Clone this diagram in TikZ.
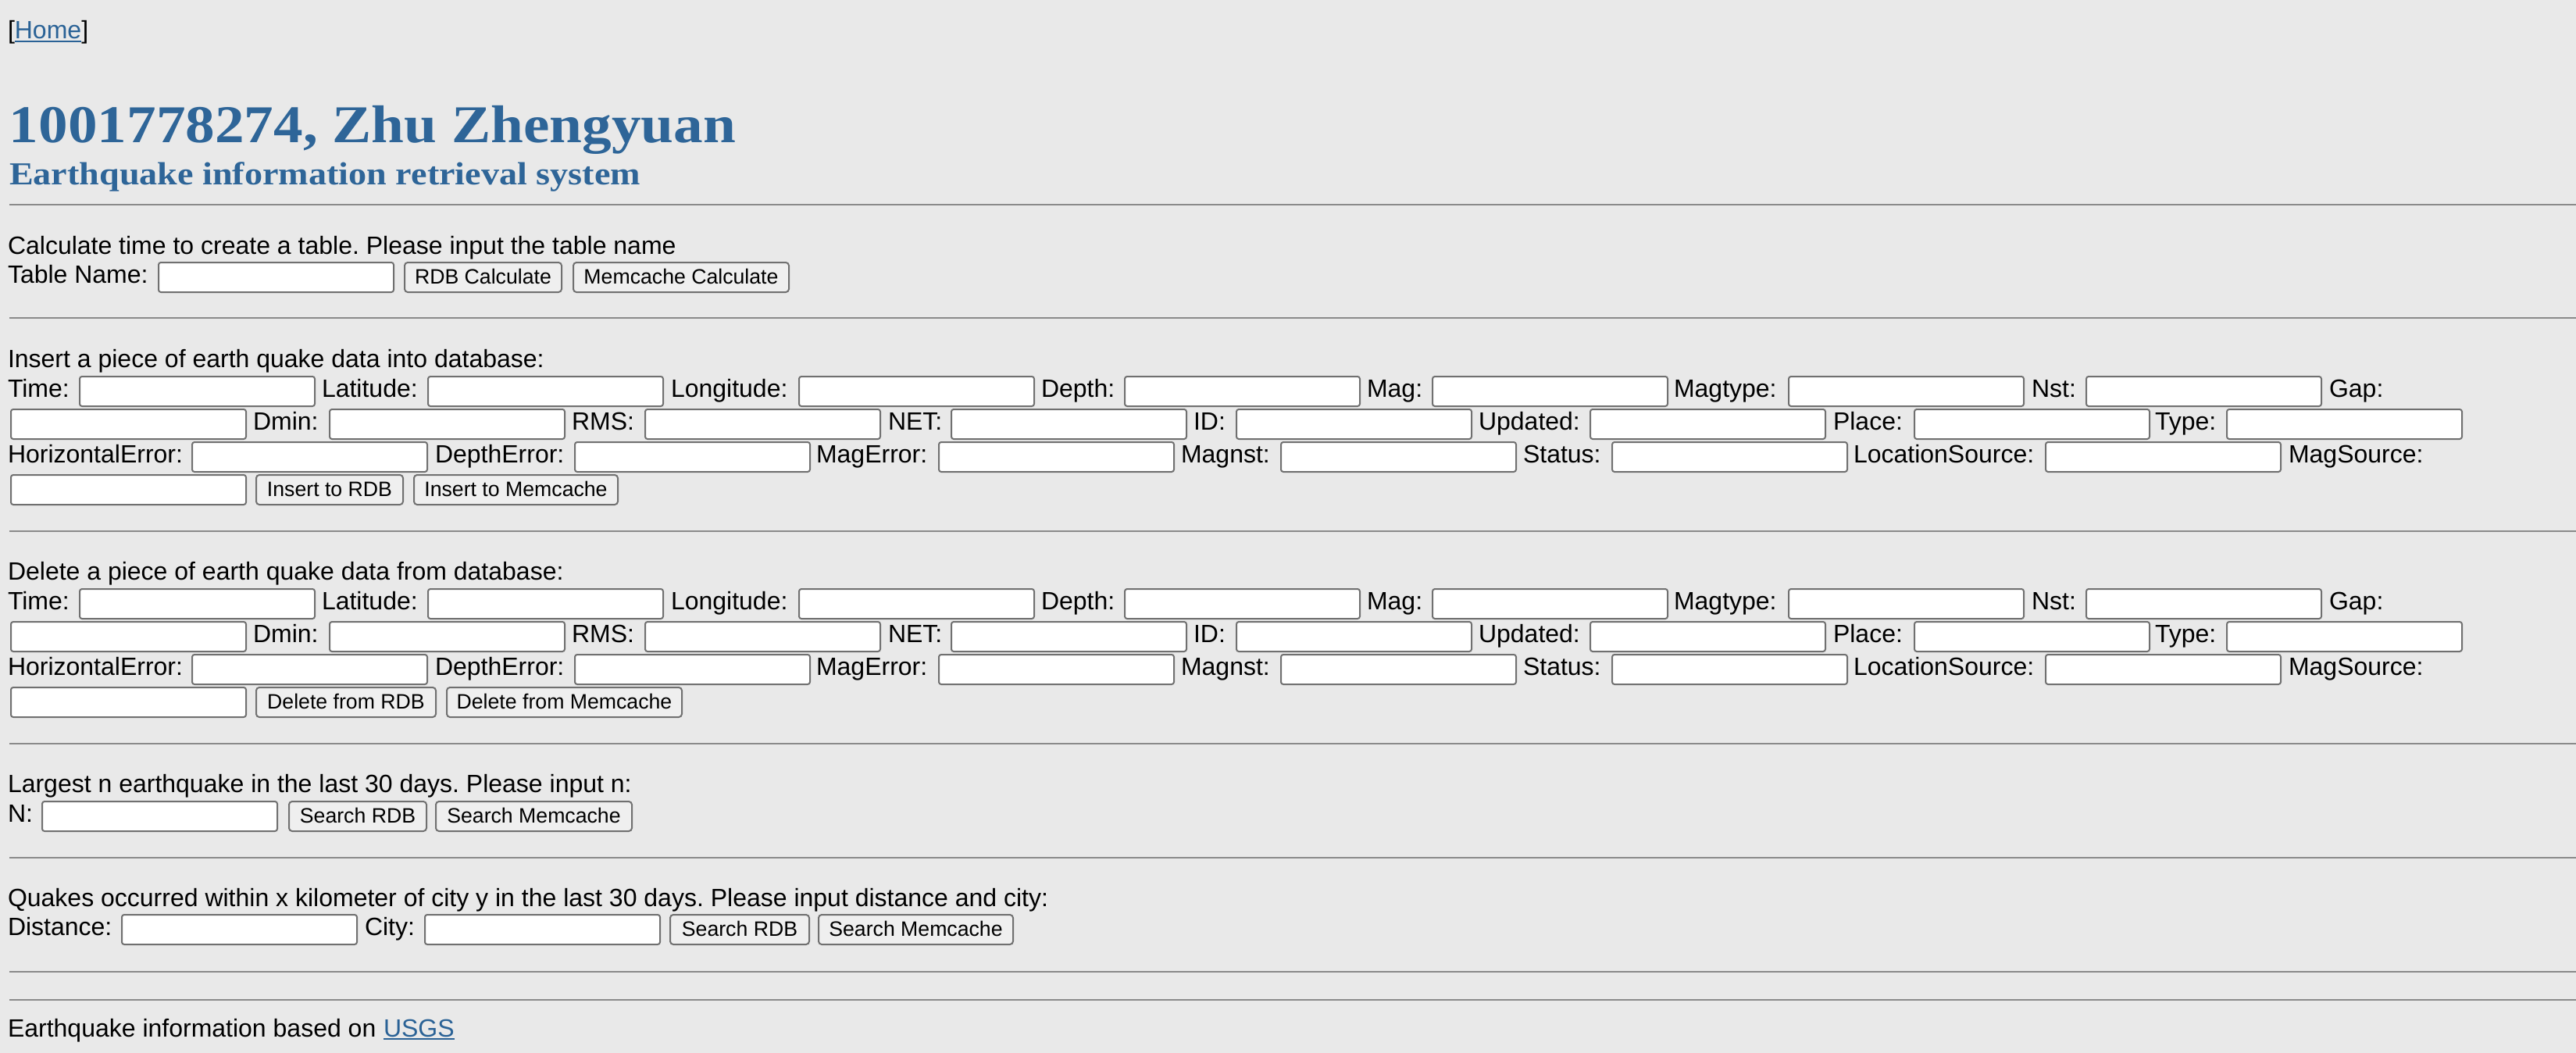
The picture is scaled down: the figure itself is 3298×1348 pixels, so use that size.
\documentclass[tikz,border=0pt]{standalone}
\usepackage{fontspec}
\usepackage{graphicx}
\setmainfont{Liberation Sans}
\newfontfamily\serifbf{Liberation Serif}
\definecolor{bgc}{RGB}{233,233,233}
\definecolor{hrc}{RGB}{138,138,138}
\definecolor{brd}{RGB}{112,112,112}
\definecolor{btnfill}{RGB}{239,239,239}
\definecolor{titleblue}{RGB}{46,101,152}
\definecolor{linkblue}{RGB}{42,98,150}
\tikzset{
  txt/.style={anchor=base west, inner sep=0pt, outer sep=0pt, font=\fontsize{32}{38}\selectfont},
  field/.style={draw=brd, fill=white, line width=2pt, rounded corners=3pt, anchor=north west,
    xshift=1pt, yshift=-1pt, minimum width=301pt, minimum height=38pt, inner sep=0pt},
  btn/.style={draw=brd, fill=btnfill, line width=2pt, rounded corners=4pt, anchor=north west,
    xshift=1pt, yshift=-1pt, minimum width=#1, minimum height=38pt, inner sep=0pt,
    text height=20pt, text depth=4pt, font=\fontsize{26.67}{32}\selectfont},
  rule/.style={draw=hrc, line width=2.5pt},
  uline/.style={draw=linkblue, line width=2pt}
}
\frenchspacing
\begin{document}
\begin{tikzpicture}[x=1pt,y=-1pt]
\useasboundingbox (0,0) rectangle (3298,1348);
\fill[bgc] (0,0) rectangle (3298,1348);

% Home link
\node[txt] (hl) at (10,50) {[};
\node[txt, text=linkblue] (home) at (hl.base east) {Home};
\node[txt] (hr) at (home.base east) {]};
\draw[uline] ([yshift=-3pt]home.base west) -- ([yshift=-3pt]home.base east);

% Titles
\node[txt, text=titleblue, font=\serifbf\bfseries\fontsize{68}{80}\selectfont] (title) at (12,183)
  {\resizebox{930pt}{\height}{1001778274, Zhu Zhengyuan}};
\node[txt, text=titleblue, font=\serifbf\bfseries\fontsize{41}{48}\selectfont] (subtitle) at (12,237)
  {\resizebox{808pt}{\height}{Earthquake information retrieval system}};

% Rules
\foreach \ry in {262,407,680,952,1098,1244,1280}
  \draw[rule] (12,\ry) -- (3298,\ry);

% Section 1
\node[txt] (calc) at (10,325) {Calculate time to create a table. Please input the table name};
\node[txt] (tnl) at (10,362) {Table Name:};
\node[field] (tnf) at (201,334) {};
\node[btn=201pt] (rdbcalc) at (516,334) {RDB Calculate};
\node[btn=276pt] (memcalc) at (732,334) {Memcache Calculate};

% Sections 2 and 3
\node[txt] (inshead) at (10,470) {Insert a piece of earth quake data into database:};
\node[txt] (delhead) at (10,742) {Delete a piece of earth quake data from database:};
\foreach \s/\dy in {ins/0,del/272}{
  \foreach \lx/\bx/\lab [count=\i] in {10/100/Time, 412/546/Latitude, 859/1021/Longitude,
      1333/1438/Depth, 1750/1832/Mag, 2143/2288/Magtype, 2601/2669/Nst}{
    \node[txt] (\s ra\i l) at ({\lx},{508+\dy}) {\lab:};
    \node[field] (\s ra\i f) at ({\bx},{480+\dy}) {};
  }
  \node[txt] (\s gapl) at (2982,{508+\dy}) {Gap:};
  \node[field] (\s gapf) at (12,{522+\dy}) {};
  \foreach \lx/\bx/\lab [count=\i] in {324/420/Dmin, 732/824/RMS, 1137/1216/NET, 1528/1581/ID,
      1893/2034/Updated, 2347/2449/Place, 2759/2849/Type}{
    \node[txt] (\s rb\i l) at ({\lx},{550+\dy}) {\lab:};
    \node[field] (\s rb\i f) at ({\bx},{522+\dy}) {};
  }
  \foreach \lx/\bx/\lab [count=\i] in {10/244/HorizontalError, 557/734/DepthError, 1045/1200/MagError,
      1512/1638/Magnst, 1950/2062/Status, 2373/2617/LocationSource}{
    \node[txt] (\s rc\i l) at ({\lx},{592+\dy}) {\lab:};
    \node[field] (\s rc\i f) at ({\bx},{564+\dy}) {};
  }
  \node[txt] (\s magsl) at (2930,{592+\dy}) {MagSource:};
  \node[field] (\s magsf) at (12,{606+\dy}) {};
}
\node[btn=188pt] (insrdb) at (326,606) {Insert to RDB};
\node[btn=261pt] (insmem) at (528,606) {Insert to Memcache};
\node[btn=230pt] (delrdb) at (326,878) {Delete from RDB};
\node[btn=301pt] (delmem) at (570,878) {Delete from Memcache};

% Section 4
\node[txt] (largest) at (10,1014) {Largest n earthquake in the last 30 days. Please input n:};
\node[txt] (nl) at (10,1052) {N:};
\node[field] (nf) at (52,1024) {};
\node[btn=176pt] (s4rdb) at (368,1024) {Search RDB};
\node[btn=251pt] (s4mem) at (556,1024) {Search Memcache};

% Section 5
\node[txt] (quakes) at (10,1160) {Quakes occurred within x kilometer of city y in the last 30 days. Please input distance and city:};
\node[txt] (distl) at (10,1197) {Distance:};
\node[field] (distf) at (154,1169) {};
\node[txt] (cityl) at (467,1197) {City:};
\node[field] (cityf) at (542,1169) {};
\node[btn=178pt] (s5rdb) at (856,1169) {Search RDB};
\node[btn=249pt] (s5mem) at (1046,1169) {Search Memcache};

% Footer
\node[txt] (foot) at (10,1327) {Earthquake information based on};
\node[txt, text=linkblue] (usgs) at (491,1327) {USGS};
\draw[uline] ([yshift=-3pt]usgs.base west) -- ([yshift=-3pt]usgs.base east);
\end{tikzpicture}
\end{document}
